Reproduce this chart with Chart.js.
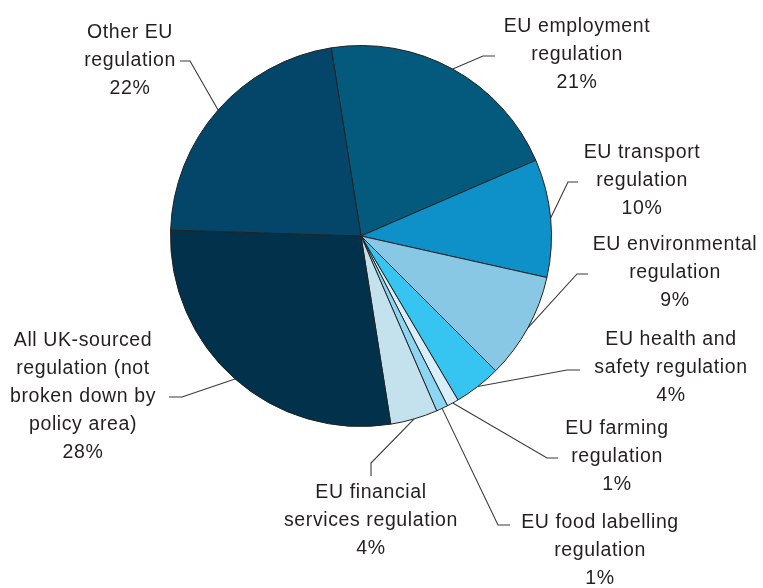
<!DOCTYPE html>
<html>
<head>
<meta charset="utf-8">
<title>Sources of regulation</title>
<script src="https://cdn.jsdelivr.net/npm/chart.js@4.4.1/dist/chart.umd.min.js"></script>
<style>
  html, body { margin: 0; padding: 0; background: #ffffff; }
  #wrap { width: 763px; height: 588px; }
</style>
</head>
<body>
<div id="wrap"><canvas id="chart" width="763" height="588"></canvas></div>
<script>
// Share of regulation by source / policy area (per cent)
const categories = [
  ["EU employment", "regulation"],
  ["EU transport", "regulation"],
  ["EU environmental", "regulation"],
  ["EU health and", "safety regulation"],
  ["EU farming", "regulation"],
  ["EU food labelling", "regulation"],
  ["EU financial", "services regulation"],
  ["All UK-sourced", "regulation (not", "broken down by", "policy area)"],
  ["Other EU", "regulation"]
];
const shares = [21, 10, 9, 4, 1, 1, 4, 28, 22];

const sliceColours = [
  "#035a7d", "#0e91c8", "#88c8e4", "#36c5f0", "#d8eefa",
  "#8cd6f3", "#c4e1ee", "#02324b", "#03466a"
];

// Label placement: text centre x, first line y, leader elbow and leader end
const labelLayout = [
  { x: 577, y: 27,  elbow: [483, 56],  end: [495, 56] },
  { x: 642, y: 153, elbow: [568, 182], end: [578, 182] },
  { x: 675, y: 245, elbow: [577, 274], end: [588, 274] },
  { x: 671, y: 340, elbow: [567, 370], end: [580, 370] },
  { x: 617, y: 429, elbow: [547, 458], end: [558, 458] },
  { x: 600, y: 523, elbow: [498, 525], end: [510, 525] },
  { x: 371, y: 493, elbow: [371, 463], end: [371, 476] },
  { x: 83,  y: 341, elbow: [182, 397], end: [169, 397] },
  { x: 130, y: 33,  elbow: [190, 61],  end: [180, 61] }
];

const lineHeight = 28;

const calloutPlugin = {
  id: "callouts",
  afterDatasetsDraw(chart) {
    const ctx = chart.ctx;
    const arcs = chart.getDatasetMeta(0).data;
    ctx.save();
    arcs.forEach((arc, i) => {
      const p = arc.getProps(["x", "y", "startAngle", "endAngle", "outerRadius"], true);
      const mid = (p.startAngle + p.endAngle) / 2;
      const sx = p.x + Math.cos(mid) * p.outerRadius;
      const sy = p.y + Math.sin(mid) * p.outerRadius;
      const L = labelLayout[i];
      ctx.beginPath();
      ctx.strokeStyle = "#3a3a3a";
      ctx.lineWidth = 1.1;
      ctx.moveTo(sx, sy);
      ctx.lineTo(L.elbow[0], L.elbow[1]);
      ctx.lineTo(L.end[0], L.end[1]);
      ctx.stroke();

      const lines = categories[i].concat([shares[i] + "%"]);
      ctx.fillStyle = "#231f20";
      ctx.font = "19.5px 'Liberation Sans', Arial, sans-serif";
      ctx.letterSpacing = "0.6px";
      ctx.textAlign = "center";
      ctx.textBaseline = "middle";
      lines.forEach((t, k) => {
        ctx.fillText(t, L.x, L.y + k * lineHeight);
      });
    });
    ctx.restore();
  }
};

new Chart(document.getElementById("chart"), {
  type: "pie",
  data: {
    labels: categories.map(c => c.join(" ")),
    datasets: [{
      data: shares,
      backgroundColor: sliceColours,
      borderColor: "#222222",
      borderWidth: 1
    }]
  },
  options: {
    responsive: false,
    devicePixelRatio: 1,
    animation: false,
    rotation: -9,
    layout: { padding: { top: 45, bottom: 161, left: 170, right: 211 } },
    plugins: {
      legend: { display: false },
      tooltip: { enabled: false }
    }
  },
  plugins: [calloutPlugin]
});
</script>
</body>
</html>
